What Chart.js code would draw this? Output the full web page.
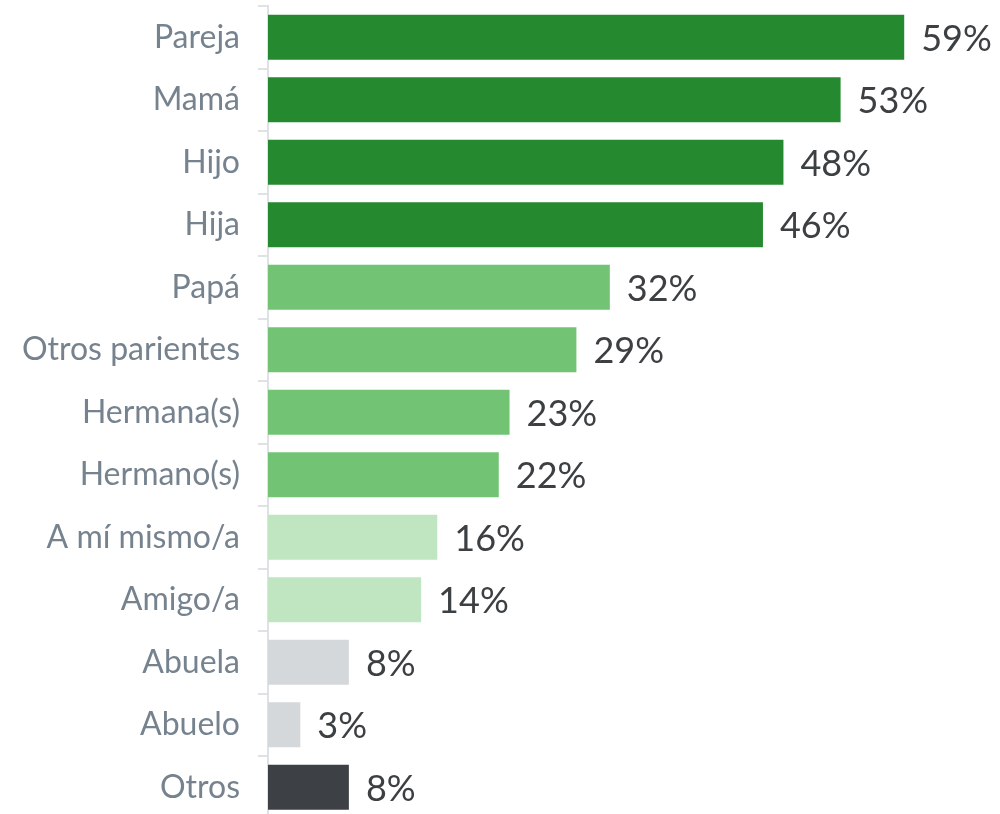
<!DOCTYPE html>
<html>
<head>
<meta charset="utf-8">
<script src="https://cdn.jsdelivr.net/npm/chart.js@4.4.0/dist/chart.umd.min.js"></script>
<style>
  html, body { margin: 0; padding: 0; background: #fff; overflow: hidden; }
  #wrap { position: relative; width: 1000px; height: 820px; }
</style>
</head>
<body>
<div id="wrap"><canvas id="c"></canvas></div>
<script>
const categories = ["Pareja", "Mamá", "Hijo", "Hija", "Papá", "Otros parientes", "Hermana(s)", "Hermano(s)", "A mí mismo/a", "Amigo/a", "Abuela", "Abuelo", "Otros"];
const values = [59.0, 53.1, 47.8, 45.9, 31.7, 28.6, 22.4, 21.4, 15.7, 14.2, 7.5, 3.0, 7.5];
const valueLabels = ["59%", "53%", "48%", "46%", "32%", "29%", "23%", "22%", "16%", "14%", "8%", "3%", "8%"];
const barColors = ["#258a2f", "#258a2f", "#258a2f", "#258a2f", "#72c474", "#72c474", "#72c474", "#72c474", "#bfe6c0", "#bfe6c0", "#d5d8db", "#d5d8db", "#3d4145"];

const valueLabelPlugin = {
  id: 'valueLabels',
  afterDatasetsDraw(chart) {
    const ctx = chart.ctx;
    const meta = chart.getDatasetMeta(0);
    ctx.save();
    ctx.font = '36px Lato';
    ctx.fillStyle = '#3c4043';
    ctx.textAlign = 'left';
    ctx.textBaseline = 'middle';
    meta.data.forEach((bar, i) => {
      ctx.fillText(valueLabels[i], bar.x + 17, bar.y + 2);
    });
    ctx.restore();
  }
};

Chart.defaults.font.family = 'Lato';
new Chart(document.getElementById('c'), {
  type: 'bar',
  data: {
    labels: categories,
    datasets: [{
      data: values,
      backgroundColor: barColors,
      barPercentage: 0.72,
      categoryPercentage: 1.0
    }]
  },
  options: {
    indexAxis: 'y',
    responsive: true,
    maintainAspectRatio: false,
    animation: false,
    layout: { padding: { top: 6, bottom: 1.5, left: 0, right: 85 } },
    plugins: { legend: { display: false }, tooltip: { enabled: false } },
    scales: {
      x: { display: false, min: 0, max: 60 },
      y: {
        afterFit(scale) { scale.width = 268; scale.paddingTop = 0; scale.paddingBottom = 0; },
        border: { display: true, color: '#dfe2e5', width: 2 },
        grid: { display: true, drawOnChartArea: false, drawTicks: true, tickLength: 10, color: '#dfe2e5', tickColor: '#dfe2e5', offset: true, lineWidth: 2 },
        ticks: { color: '#76838f', font: { size: 32, family: 'Lato' }, padding: 18 }
      }
    }
  },
  plugins: [valueLabelPlugin]
});
</script>
</body>
</html>
